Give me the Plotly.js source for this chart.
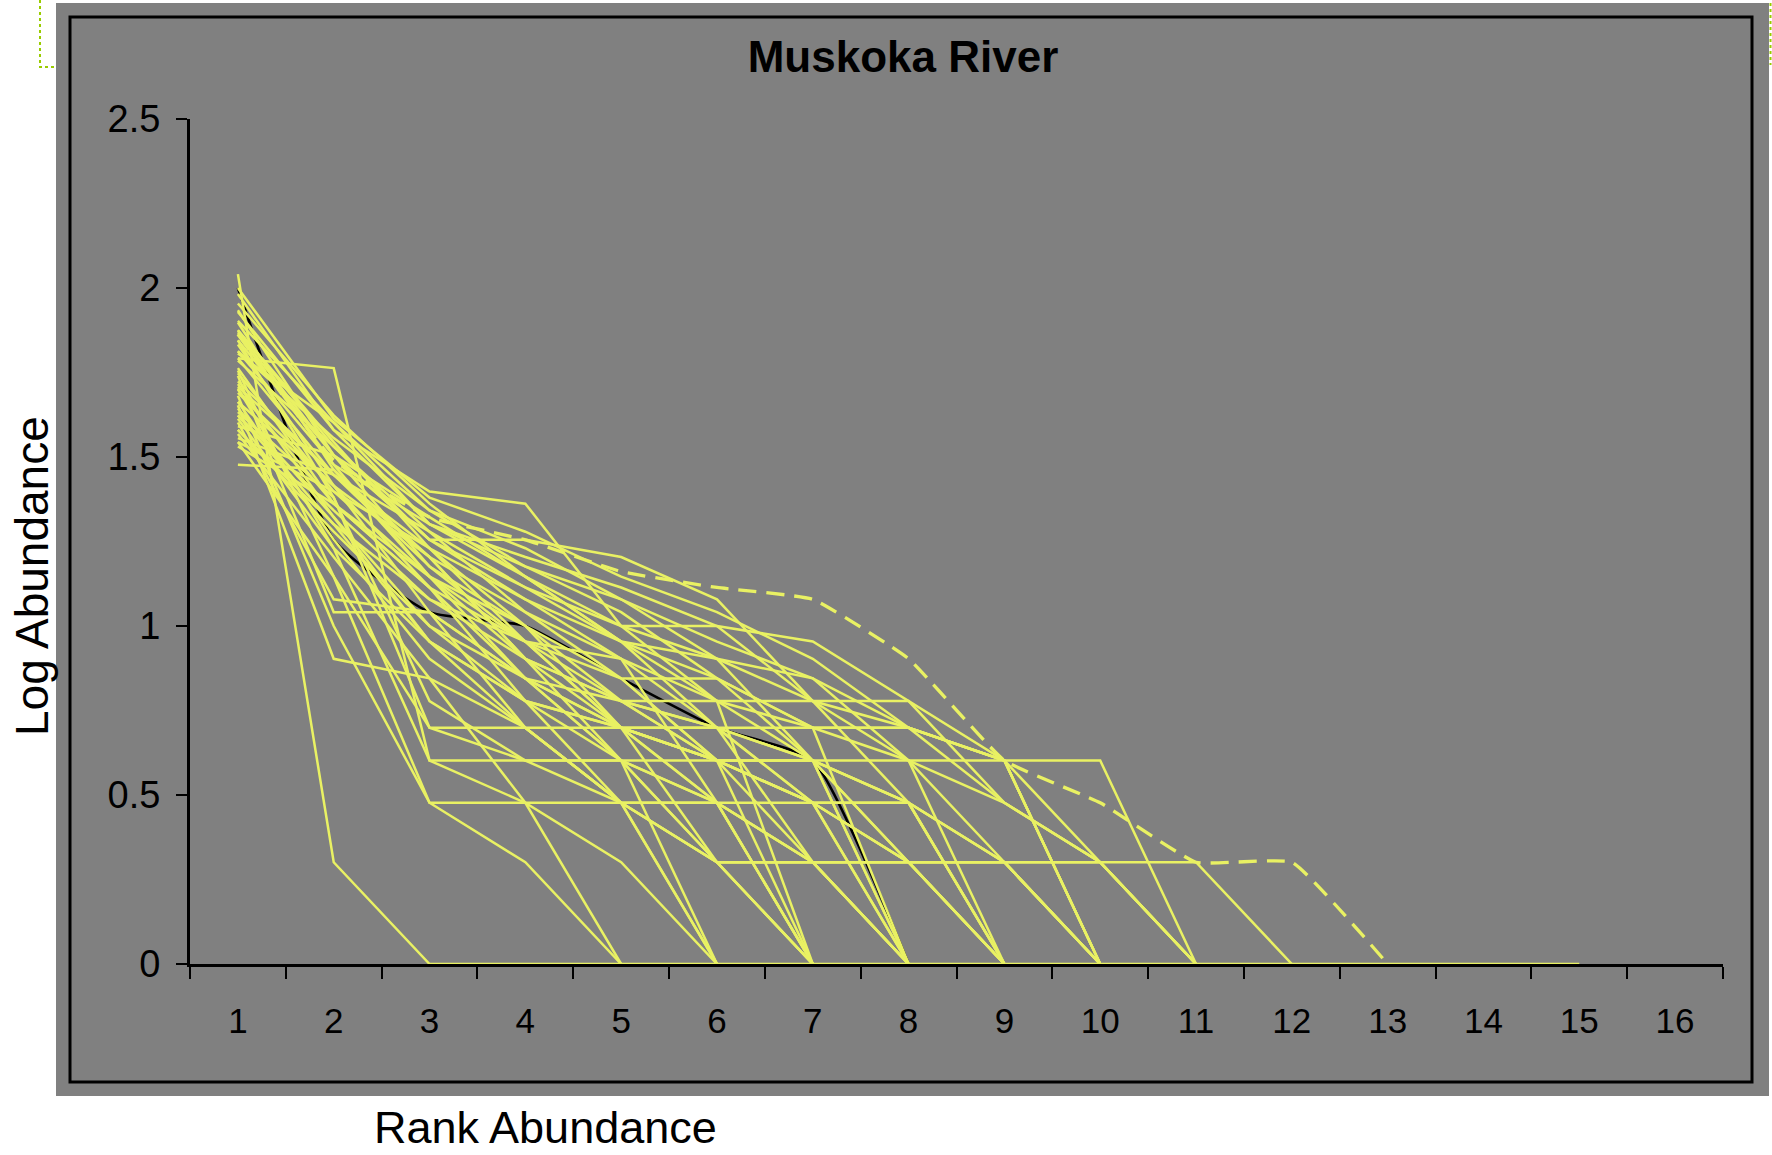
<!DOCTYPE html>
<html>
<head>
<meta charset="utf-8">
<script src="https://cdn.plot.ly/plotly-3.0.1.min.js"></script>
<style>
html, body { margin: 0; padding: 0; background: #ffffff; }
#chart { width: 1772px; height: 1155px; }
</style>
</head>
<body>
<div id="chart"></div>
<script>
// ---- data (log10 abundance by rank) ----
const ranks = ['1','2','3','4','5','6','7','8','9','10','11','12','13','14','15','16'];
const yTickVals = [0, 0.5, 1, 1.5, 2, 2.5];

const chartTitle = 'Muskoka River';
const xTitle = 'Rank Abundance';
const yTitle = 'Log Abundance';

const blackSeries  = [2.000, 1.255, 1.041, 1.000, 0.845, 0.699, 0.602, 0];
const dashedSeries = [1.863, 1.491, 1.322, 1.255, 1.161, 1.114, 1.079, 0.903, 0.602, 0.477, 0.301, 0.301, 0];

const site01 = [2.041, 0.301, 0, 0, 0, 0, 0, 0, 0, 0, 0, 0, 0, 0, 0];
const site02 = [1.792, 1.763, 0.602, 0.602, 0.602, 0.602, 0];
const site03 = [1.929, 1.580, 1.398, 1.362, 1.000, 1.000, 0.954, 0.778, 0.602, 0.602, 0];
const site04 = [1.845, 1.505, 1.255, 1.255, 1.204, 1.079, 0.778, 0.699, 0.477, 0.301, 0];
const site05 = [1.690, 1.415, 1.204, 0.903, 0.699, 0.602, 0.477, 0.301, 0.301, 0.301, 0.301, 0];
const site06 = [1.813, 1.477, 1.301, 1.146, 0.954, 0.778, 0.699, 0.699, 0.602, 0];
const site07 = [1.623, 1.342, 1.079, 0.903, 0.778, 0.699, 0.477, 0.477, 0.301, 0];
const site08 = [1.724, 1.447, 1.176, 1.000, 0.845, 0.602, 0.477, 0.301, 0];
const site09 = [1.875, 1.544, 1.230, 1.079, 0.903, 0.778, 0.778, 0.477, 0];
const site10 = [1.580, 1.301, 0.954, 0.778, 0.699, 0.699, 0.602, 0.602, 0];
const site11 = [1.763, 1.362, 1.114, 0.845, 0.602, 0.477, 0.301, 0];
const site12 = [1.643, 1.322, 0.954, 0.778, 0.699, 0.602, 0.477, 0];
const site13 = [1.903, 1.602, 1.342, 1.176, 1.041, 0.845, 0.699, 0];
const site14 = [1.663, 1.255, 0.903, 0.699, 0.477, 0.301, 0];
const site15 = [1.863, 1.477, 1.146, 0.954, 0.699, 0.477, 0];
const site16 = [1.954, 1.623, 1.362, 1.146, 1.000, 0.778, 0];
const site17 = [1.568, 1.204, 0.845, 0.477, 0.301, 0];
const site18 = [1.703, 1.230, 0.954, 0.699, 0.477, 0];
const site19 = [1.833, 1.415, 1.041, 0.845, 0.602, 0];
const site20 = [1.544, 1.146, 0.477, 0.301, 0];
const site21 = [1.681, 1.000, 0.477, 0.477, 0];
const site22 = [1.477, 1.462, 1.204, 0.903, 0.602, 0.301, 0.301, 0];
const site23 = [1.602, 1.079, 1.041, 0.699, 0.699, 0.699, 0.699, 0.699, 0.602, 0];
const site24 = [1.740, 1.041, 1.041, 0.845, 0.699, 0.602, 0.602, 0.477, 0.301, 0.301, 0];
const site25 = [1.653, 0.903, 0.845, 0.699, 0.477, 0.477, 0.301, 0.301, 0];
const site26 = [1.591, 1.505, 1.322, 1.146, 0.954, 0.903, 0.602, 0.301, 0.301, 0];
const site27 = [1.556, 1.447, 1.279, 1.041, 0.845, 0.602, 0.602, 0.477, 0];
const site28 = [1.785, 1.531, 1.255, 1.114, 1.000, 0.903, 0.778, 0.602, 0.301, 0];
const site29 = [1.982, 1.580, 1.301, 1.204, 1.114, 1.000, 0.778, 0.778, 0.477, 0.301, 0];
const site30 = [1.748, 1.398, 1.146, 1.000, 0.778, 0.699, 0.301, 0];
const site31 = [1.869, 1.505, 1.176, 0.954, 0.903, 0.477, 0.477, 0.477, 0];
const site32 = [1.633, 1.380, 0.778, 0.602, 0.602, 0.477, 0];
const site33 = [1.708, 1.447, 1.230, 0.954, 0.845, 0.845, 0.602, 0];
const site34 = [1.531, 1.362, 1.114, 0.778, 0.602, 0.301, 0];
const site35 = [1.806, 1.602, 1.301, 1.176, 1.079, 0.954, 0.845, 0.602, 0.602, 0.301, 0];
const site36 = [2.000, 1.613, 1.380, 1.279, 1.146, 1.041, 0.903, 0.699, 0.602, 0];
const site37 = [1.756, 1.146, 0.699, 0.699, 0.477, 0.301, 0.301, 0];
const site38 = [1.845, 1.380, 0.699, 0.602, 0.477, 0];
const site39 = [1.613, 1.230, 0.602, 0.477, 0.477, 0.301, 0];
const site40 = [1.716, 1.322, 1.000, 0.845, 0.778, 0.602, 0.477, 0.301, 0];
const site41 = [1.898, 1.462, 1.146, 0.903, 0.778, 0.778, 0.602, 0.477, 0.301, 0];
const site42 = [1.663, 1.415, 1.114, 0.954, 0.699, 0.477, 0.301, 0.301, 0.301, 0];
const site43 = [1.792, 1.447, 1.204, 1.041, 0.903, 0.699, 0.602, 0.301, 0];
const site44 = [1.580, 1.279, 1.000, 0.778, 0.477, 0.477, 0];
const site45 = [1.934, 1.505, 1.255, 1.079, 0.954, 0.845, 0.699, 0.602, 0.477, 0.301, 0];
const site46 = [1.699, 1.362, 1.146, 0.845, 0.699, 0.602, 0.301, 0];
const site47 = [1.813, 1.556, 1.342, 1.230, 1.079, 0.903, 0.845, 0.699, 0.602, 0];
const site48 = [1.623, 1.301, 1.079, 0.954, 0.778, 0.602, 0.602, 0];
const site49 = [1.875, 1.531, 1.279, 1.114, 0.954, 0.699, 0.477, 0];
const site50 = [1.544, 1.398, 1.230, 1.000, 0.699, 0.301, 0.301, 0.301, 0];

const yellowSeries = [site01, site02, site03, site04, site05, site06, site07, site08, site09,
  site10, site11, site12, site13, site14, site15, site16, site17, site18, site19, site20,
  site21, site22, site23, site24, site25, site26, site27, site28, site29, site30, site31,
  site32, site33, site34, site35, site36, site37, site38, site39, site40, site41, site42,
  site43, site44, site45, site46, site47, site48, site49, site50];

// ---- styling ----
const YELLOW = '#E9F163';
const FONT = 'Liberation Sans, Arial, Helvetica, sans-serif';

// plot area in pixels: x 190..1723, y 119..964
const W = 1772, H = 1155;
const L = 190, R = 49, T = 119, B = 191;
const pw = W - L - R, ph = H - T - B;
const px = v => (v - L) / pw;          // pixel x -> paper x
const py = v => (H - B - v) / ph;      // pixel y -> paper y

const traces = [];
traces.push({
  type: 'scatter', mode: 'lines',
  x: ranks.slice(0, blackSeries.length), y: blackSeries,
  line: { color: '#000000', width: 2.6, shape: 'spline', smoothing: 0.5 },
  hoverinfo: 'skip', showlegend: false
});
yellowSeries.forEach(s => {
  traces.push({
    type: 'scatter', mode: 'lines',
    x: ranks.slice(0, s.length), y: s,
    line: { color: YELLOW, width: 2.5 },
    hoverinfo: 'skip', showlegend: false
  });
});
traces.push({
  type: 'scatter', mode: 'lines',
  x: ranks.slice(0, dashedSeries.length), y: dashedSeries,
  line: { color: YELLOW, width: 3.3, dash: '18px,10px', shape: 'spline', smoothing: 0.35 },
  hoverinfo: 'skip', showlegend: false
});

const layout = {
  width: W, height: H,
  margin: { l: L, r: R, t: T, b: B, pad: 0 },
  paper_bgcolor: '#ffffff',
  plot_bgcolor: '#808080',
  font: { family: FONT, color: '#000000' },
  showlegend: false,
  title: {
    text: '<b>' + chartTitle + '</b>',
    font: { family: FONT, size: 44, color: '#000000' },
    xref: 'paper', x: px(903), xanchor: 'center',
    yref: 'container', y: 1 - 57 / H, yanchor: 'middle'
  },
  xaxis: {
    type: 'category',
    categoryorder: 'array', categoryarray: ranks,
    range: [-0.5, ranks.length - 0.5],
    tickson: 'boundaries',
    ticks: 'outside', ticklen: 12, tickwidth: 2, tickcolor: '#000000',
    showline: true, linecolor: '#000000', linewidth: 3,
    showgrid: false, zeroline: false,
    tickfont: { family: FONT, size: 35, color: '#000000' },
    ticklabelstandoff: 24,
    layer: 'below traces',
    fixedrange: true
  },
  yaxis: {
    range: [0, 2.5],
    tickmode: 'array', tickvals: yTickVals,
    ticktext: yTickVals.map(v => String(v)),
    ticks: 'outside', ticklen: 11, tickwidth: 2, tickcolor: '#000000',
    showline: true, linecolor: '#000000', linewidth: 3,
    showgrid: false, zeroline: false,
    tickfont: { family: FONT, size: 38, color: '#000000' },
    ticklabelstandoff: 8,
    layer: 'below traces',
    fixedrange: true
  },
  shapes: [
    { type: 'rect', xref: 'paper', yref: 'paper', layer: 'below',
      x0: px(56), x1: px(1769), y0: py(1096), y1: py(3),
      fillcolor: '#808080', line: { width: 0 } },
    { type: 'rect', xref: 'paper', yref: 'paper', layer: 'below',
      x0: px(70), x1: px(1752), y0: py(1082), y1: py(17),
      fillcolor: 'rgba(0,0,0,0)', line: { color: '#000000', width: 3 } },
    { type: 'path', xref: 'paper', yref: 'paper', layer: 'above',
      path: 'M ' + px(40) + ' ' + py(0) + ' L ' + px(40) + ' ' + py(67) + ' L ' + px(56) + ' ' + py(67),
      line: { color: '#99CC00', width: 2, dash: 'dot' } },
    { type: 'line', xref: 'paper', yref: 'paper', layer: 'above',
      x0: px(1770.5), x1: px(1770.5), y0: py(3), y1: py(65),
      line: { color: '#99CC00', width: 2, dash: 'dot' } }
  ],
  annotations: [
    { text: xTitle, xref: 'paper', yref: 'paper',
      x: px(545), y: py(1127), xanchor: 'center', yanchor: 'middle',
      showarrow: false, font: { family: FONT, size: 45, color: '#000000' } },
    { text: yTitle, xref: 'paper', yref: 'paper', textangle: -90,
      x: px(32), y: py(576), xanchor: 'center', yanchor: 'middle',
      showarrow: false, font: { family: FONT, size: 46, color: '#000000' } }
  ]
};

Plotly.newPlot('chart', traces, layout, { staticPlot: true, displayModeBar: false });
</script>
</body>
</html>
